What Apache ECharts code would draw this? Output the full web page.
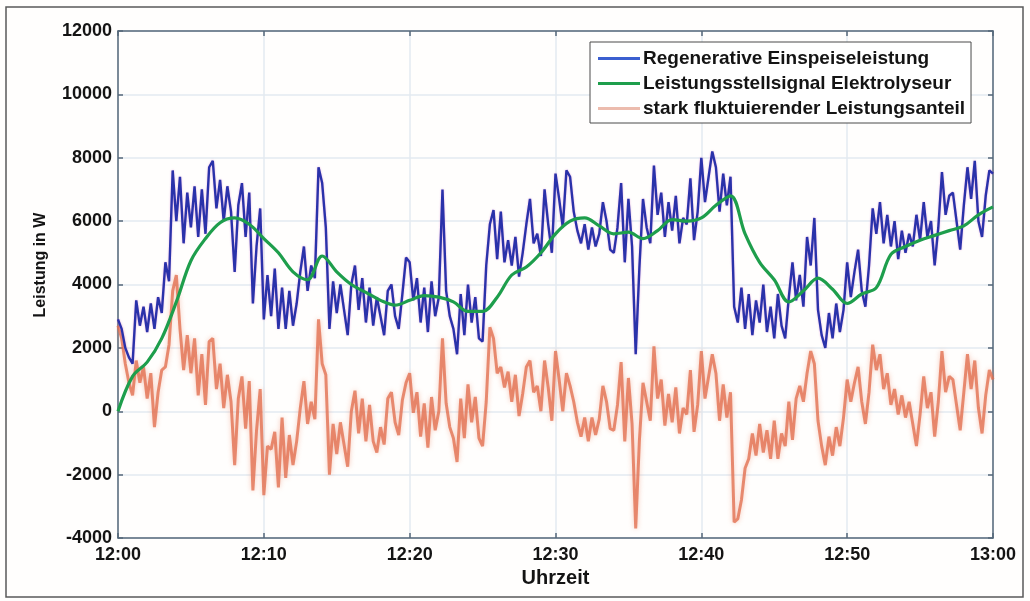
<!DOCTYPE html>
<html>
<head>
<meta charset="utf-8">
<script src="https://cdn.jsdelivr.net/npm/echarts@6/dist/echarts.min.js"></script>
<style>
  html, body { margin: 0; padding: 0; background: #fffefd; }
  #chart { width: 1030px; height: 601px; }
</style>
</head>
<body>
<div id="chart"></div>
<script>
// Power trace from 12:00 to 13:00, values in W.
// Fast series are sampled every 15 s, the control signal every minute.
const startHour = 12;
const fastStepMin = 0.25;
const slowStepMin = 1;

const tickMinutes = [0, 10, 20, 30, 40, 50, 60];

const seriesNames = [
  'Regenerative Einspeiseleistung',
  'Leistungsstellsignal Elektrolyseur',
  'stark fluktuierender Leistungsanteil'
];

// Regenerative Einspeiseleistung (15 s steps)
const feedIn = [
  2900, 2600, 2000, 1700, 1500, 3500, 2700, 3300, 2500, 3400,
  2600, 3600, 3100, 4700, 4100, 7600, 6000, 7400, 5300, 6900,
  5800, 7100, 5500, 7000, 5600, 7700, 7900, 6400, 7300, 6000,
  7100, 6300, 4400, 6500, 7200, 5500, 6900, 3400, 5200, 6400,
  2900, 4300, 3000, 4500, 2600, 3900, 2600, 3800, 2700, 3400,
  4400, 5200, 3800, 4600, 4200, 7700, 7200, 5800, 2600, 4100,
  3100, 4000, 3200, 2400, 4000, 4600, 3200, 4200, 2800, 3900,
  2700, 3600, 3000, 2400, 3800, 4000, 3000, 2600, 3700, 4850,
  4700, 3500, 4200, 2800, 3900, 2500, 4100, 3000, 3600, 7000,
  3800, 3000, 2600, 1800, 3700, 2400, 4000, 2800, 3600, 2300,
  2200, 4600, 5900, 6350, 4800, 6300, 4700, 5400, 4600, 5500,
  4250, 5000, 5900, 6700, 5300, 5600, 4900, 7000, 5900, 5000,
  7500, 6700, 5800, 7600, 7400, 6300, 5700, 5300, 5900, 5100,
  5800, 5200, 5600, 6600, 6000, 5100, 5000, 5800, 7200, 4700,
  6700, 5200, 1800, 4500, 6700, 5800, 5300, 7750, 6200, 6900,
  5500, 6600, 5700, 6800, 5300, 6100, 5900, 7350, 5400, 6300,
  8000, 6600, 7400, 8200, 7700, 6300, 7500, 6500, 7400, 3300,
  2800, 3900, 2600, 3700, 2400, 3500, 2800, 4000, 2500, 3300,
  2300, 3700, 2700, 2300, 3600, 4700, 3500, 4300, 3300, 5500,
  4600, 6100, 3200, 2400, 2000, 3100, 2300, 3400, 2500, 3200,
  4700, 3600, 4400, 5100, 3800, 3300, 4600, 6400, 5600, 6600,
  5300, 6200, 5200, 6000, 4800, 5700, 5000, 5600, 5200, 6200,
  5400, 6600, 5500, 6000, 4600, 5800, 7550, 6200, 6800, 6900,
  6000, 5100, 6500, 7700, 6700, 7900, 6000, 5500, 6800, 7600,
  7500
];

// Leistungsstellsignal Elektrolyseur (1 min steps)
const controlSignal = [
  0, 1100, 1550, 2300, 3450, 4750, 5450, 5950, 6100, 5900,
  5450, 5000, 4400, 4150, 4900, 4400, 4000, 3750, 3500, 3350,
  3500, 3650, 3600, 3450, 3150, 3150, 3600, 4300, 4550, 5000,
  5600, 6000, 6100, 5850, 5600, 5650, 5450, 5700, 6050, 6000,
  6100, 6500, 6800, 5600, 4700, 4150, 3450, 3800, 4200, 3850,
  3400, 3700, 3900, 4950, 5200, 5400, 5550, 5700, 5850, 6200,
  6450
];

// stark fluktuierender Leistungsanteil (15 s steps)
const fluctuation = [
  2700, 2300, 1500, 900, 500, 1600, 900, 1400, 400, 1200,
  -500, 600, 1300, 1400, 2100, 3800, 4300, 2600, 1300, 2400,
  1200, 2300, 500, 1800, 200, 2200, 2300, 700, 1500, 100,
  1150, 300, -1700, 400, 1100, -550, 950, -2500, -600, 700,
  -2650, -1100, -1200, -650, -2400, -200, -2100, -750, -1700, -950,
  100, 950, -400, 300, -250, 2900, 1500, 1150, -2000, -400,
  -1350, -350, -1050, -1750, 0, 650, -700, 400, -950, 200,
  -950, -1300, -500, -1050, 400, 600, -350, -750, 350, 900,
  1200, -50, 600, -800, 250, -1150, 450, -600, 0, 2300,
  250, -500, -850, -1600, 400, -850, 850, -350, 450, -850,
  -1100, 300, 2650, 2300, 1200, 1400, 750, 1250, 300, 1150,
  -150, 550, 1400, 1600, 600, 800, 0, 1600, 750, -300,
  1900, 1000, 0, 1200, 800, 300, -350, -800, -200, -950,
  -200, -750, -250, 800, 300, -550, -600, 200, 1550, -950,
  1050, -400, -3700, -950, 900, 300, -300, 2050, 400, 1000,
  -450, 550, -350, 750, -700, 100, -100, 1300, -650, 200,
  1900, 400, 1100, 1800, 1200, -300, 850, -200, 600, -3500,
  -3400, -2800, -1800, -1500, -700, -1400, -400, -1300, -600, -1500,
  -300, -1500, -700, -1100, 300, -900, 400, 800, 300, 1200,
  1900, 1500, -300, -1100, -1700, -800, -1400, -500, -1100, -200,
  1000, 300, 900, 1400, 300, -400, 600, 2100, 1300, 1800,
  700, 1200, 200, 700, -100, 500, -200, 300, -400, -1100,
  -100, 1100, 100, 600, -800, 300, 1900, 600, 1100, 1000,
  200, -600, 600, 1800, 700, 1600, 100, -700, 500, 1300,
  1000
];

const yMin = -4000, yMax = 12000, yStep = 2000;

function clockLabel(min) {
  const h = startHour + Math.floor(min / 60);
  const m = Math.round(min % 60);
  return h + ':' + (m < 10 ? '0' + m : m);
}

const toPairs = (arr, step) => arr.map((v, i) => [i * step, v]);

const axisColor = '#56687a';
const gridColor = '#e3eaf0';
const labelFont = { color: '#141414', fontFamily: 'Liberation Sans, Arial, sans-serif', fontWeight: 'bold', fontSize: 18 };

const chart = echarts.init(document.getElementById('chart'), null, { renderer: 'canvas' });

chart.setOption({
  animation: false,
  backgroundColor: '#fffefd',
  grid: { left: 118, right: 37, top: 31, bottom: 63, containLabel: false },
  graphic: [
    {
      type: 'rect', silent: true, z: -1,
      shape: { x: 6, y: 7, width: 1017, height: 590 },
      style: { fill: 'none', stroke: '#5a5a5a', lineWidth: 1.5 }
    },
    {
      type: 'text', silent: true,
      x: 41, y: 265, rotation: Math.PI / 2,
      style: {
        text: 'Leistung in W', fill: '#141414',
        font: 'bold 16px "Liberation Sans", Arial, sans-serif',
        align: 'center', verticalAlign: 'middle'
      }
    }
  ],
  legend: {
    orient: 'vertical',
    left: 590, top: 42,
    padding: [4, 6, 2, 8],
    itemGap: 0,
    itemWidth: 42, itemHeight: 3,
    icon: 'rect',
    backgroundColor: '#ffffff',
    borderColor: '#4a4a4a', borderWidth: 1, borderRadius: 0,
    textStyle: Object.assign({}, labelFont, { fontSize: 19, lineHeight: 25, padding: [0, 0, 0, -2] }),
    data: [
      { name: seriesNames[0], itemStyle: { color: '#3b5fd0' } },
      { name: seriesNames[1], itemStyle: { color: '#1e9e4c' } },
      { name: seriesNames[2], itemStyle: { color: '#ecbcae' } }
    ]
  },
  xAxis: [
    {
      type: 'value', min: 0, max: 60, interval: 10,
      name: 'Uhrzeit', nameLocation: 'middle', nameGap: 28,
      nameTextStyle: Object.assign({}, labelFont, { fontSize: 20 }),
      axisLine: { show: true, onZero: false, lineStyle: { color: axisColor, width: 1.5 } },
      axisTick: { show: true, inside: true, length: 5, lineStyle: { color: axisColor, width: 1.5 } },
      axisLabel: Object.assign({}, labelFont, { margin: 8, formatter: v => clockLabel(v), customValues: tickMinutes }),
      splitLine: { show: true, lineStyle: { color: gridColor, width: 1.5 } }
    },
    {
      type: 'value', min: 0, max: 60, interval: 10, position: 'top',
      axisLine: { show: true, onZero: false, lineStyle: { color: axisColor, width: 1.5 } },
      axisTick: { show: true, inside: true, length: 5, lineStyle: { color: axisColor, width: 1.5 } },
      axisLabel: { show: false },
      splitLine: { show: false }
    }
  ],
  yAxis: [
    {
      type: 'value', min: yMin, max: yMax, interval: yStep,
      axisLine: { show: true, onZero: false, lineStyle: { color: axisColor, width: 1.5 } },
      axisTick: { show: true, inside: true, length: 5, lineStyle: { color: axisColor, width: 1.5 } },
      axisLabel: Object.assign({}, labelFont, { margin: 6, formatter: v => String(v) }),
      splitLine: { show: true, lineStyle: { color: gridColor, width: 1.5 } }
    },
    {
      type: 'value', min: yMin, max: yMax, interval: yStep, position: 'right',
      axisLine: { show: true, onZero: false, lineStyle: { color: axisColor, width: 1.5 } },
      axisTick: { show: true, inside: true, length: 5, lineStyle: { color: axisColor, width: 1.5 } },
      axisLabel: { show: false },
      splitLine: { show: false }
    }
  ],
  series: [
    {
      name: seriesNames[0], type: 'line', xAxisIndex: 0, yAxisIndex: 0,
      data: toPairs(feedIn, fastStepMin),
      symbol: 'none', z: 3,
      lineStyle: { color: '#2a32aa', width: 2.4, shadowBlur: 2, shadowColor: 'rgba(200,80,190,0.45)' },
      itemStyle: { color: '#2a32aa' }
    },
    {
      name: seriesNames[1], type: 'line', xAxisIndex: 0, yAxisIndex: 0,
      data: toPairs(controlSignal, slowStepMin),
      symbol: 'none', smooth: 0.35, z: 4,
      lineStyle: { color: '#1e9e4c', width: 3.2 },
      itemStyle: { color: '#1e9e4c' }
    },
    {
      name: seriesNames[2], type: 'line', xAxisIndex: 0, yAxisIndex: 0,
      data: toPairs(fluctuation, fastStepMin),
      symbol: 'none', z: 2,
      lineStyle: { color: 'rgba(225,110,78,0.78)', width: 3, shadowBlur: 5, shadowColor: 'rgba(235,140,110,0.6)' },
      itemStyle: { color: '#e27050' }
    }
  ]
});
</script>
</body>
</html>
